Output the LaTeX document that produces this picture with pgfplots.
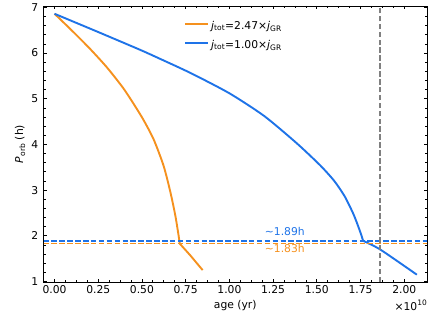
\documentclass[border=0pt]{standalone}
\usepackage{fontspec}
\setmainfont{DejaVu Sans}
\usepackage{pgfplots}
\pgfplotsset{compat=1.18}
\definecolor{cor}{RGB}{245,145,30}
\definecolor{cbl}{RGB}{30,115,232}
\begin{document}
\begin{tikzpicture}[x=1bp,y=1bp]
\useasboundingbox (0,0) rectangle (436,317);
\begin{axis}[
  at={(43.5bp,35bp)}, anchor=south west, scale only axis,
  width=383.5bp, height=276bp,
  xmin=-0.063, xmax=2.13, ymin=0.99, ymax=7.03,
  xtick={0,0.25,0.5,0.75,1.0,1.25,1.5,1.75,2.0},
  xticklabels={0.00,0.25,0.50,0.75,1.00,1.25,1.50,1.75,2.00},
  ytick={1,2,3,4,5,6,7},
  minor x tick num=3, minor y tick num=4,
  tick align=inside, xtick pos=both, ytick pos=both,
  major tick length=3.5bp, minor tick length=2bp,
  every tick/.style={black, line width=0.8bp},
  axis line style={line width=0.8bp},
  scaled x ticks=false,
  /pgf/number format/assume math mode=true,
  tick label style={font=\fontsize{10.8}{12}\selectfont},
  xticklabel style={inner sep=3.5bp},
  yticklabel style={inner sep=5bp},
  xlabel={age (yr)},
  ylabel={\textit{P}\textsubscript{orb} (h)},
  label style={font=\fontsize{10.8}{12}\selectfont},
  xlabel style={at={(axis description cs:0.5,0)}, anchor=center, yshift=-24bp},
  ylabel style={at={(axis description cs:-0.061,0.5)}, anchor=center},
]
\addplot[cor, line width=1.9bp, smooth, tension=0.4] coordinates {
(0,6.86) (0.1,6.49) (0.2,6.105) (0.3,5.685) (0.4,5.195) (0.5,4.595) (0.567,4.11)
(0.624,3.53) (0.663,2.95) (0.691,2.44) (0.711,1.97) (0.716,1.83)
};
\addplot[cbl, line width=1.9bp, smooth, tension=0.4] coordinates {
(0,6.86) (0.1,6.70) (0.25,6.46) (0.49,6.07) (0.6,5.88) (0.78,5.56) (1.0,5.12) (1.2,4.62)
(1.387,4.02) (1.52,3.54) (1.6,3.2) (1.66,2.86) (1.71,2.47) (1.745,2.12) (1.765,1.89)
};
\addplot[cor, line width=1.9bp] coordinates {(0.716,1.83) (0.777,1.57) (0.847,1.25)};
\addplot[cbl, line width=1.9bp, smooth, tension=0.4] coordinates {(1.765,1.89) (1.863,1.70) (2.072,1.15)};
\addplot[cbl, line width=1.5bp, dash pattern=on 5.5bp off 2.4bp] coordinates {(-0.063,1.89) (2.13,1.89)};
\addplot[cor, line width=1.5bp, dash pattern=on 5.5bp off 2.4bp] coordinates {(-0.063,1.83) (2.13,1.83)};
\addplot[gray, line width=1.5bp, dash pattern=on 5.5bp off 2.4bp] coordinates {(1.86,0.99) (1.86,7.03)};
\node[cbl, anchor=base, inner sep=0pt, font=\fontsize{10.8}{12}\selectfont] at (axis cs:1.317,2.013) {\textasciitilde1.89h};
\node[cor, anchor=base, inner sep=0pt, font=\fontsize{10.8}{12}\selectfont] at (axis cs:1.317,1.636) {\textasciitilde1.83h};
\end{axis}
% legend
\draw[cor, line width=1.9bp] (185,293) -- (208,293);
\node[anchor=base west, inner sep=0pt, font=\fontsize{10.8}{12}\selectfont] at (211,287.7) {\textit{j}\textsubscript{tot}=2.47×\textit{j}\textsubscript{GR}};
\draw[cbl, line width=1.9bp] (185,274) -- (208,274);
\node[anchor=base west, inner sep=0pt, font=\fontsize{10.8}{12}\selectfont] at (211,268.7) {\textit{j}\textsubscript{tot}=1.00×\textit{j}\textsubscript{GR}};
% offset text
\node[anchor=east, inner sep=0pt, font=\fontsize{10.8}{12}\selectfont] at (427,12) {×10\raisebox{0.9ex}{\fontsize{7.5}{8}\selectfont 10}};
\end{tikzpicture}
\end{document}
